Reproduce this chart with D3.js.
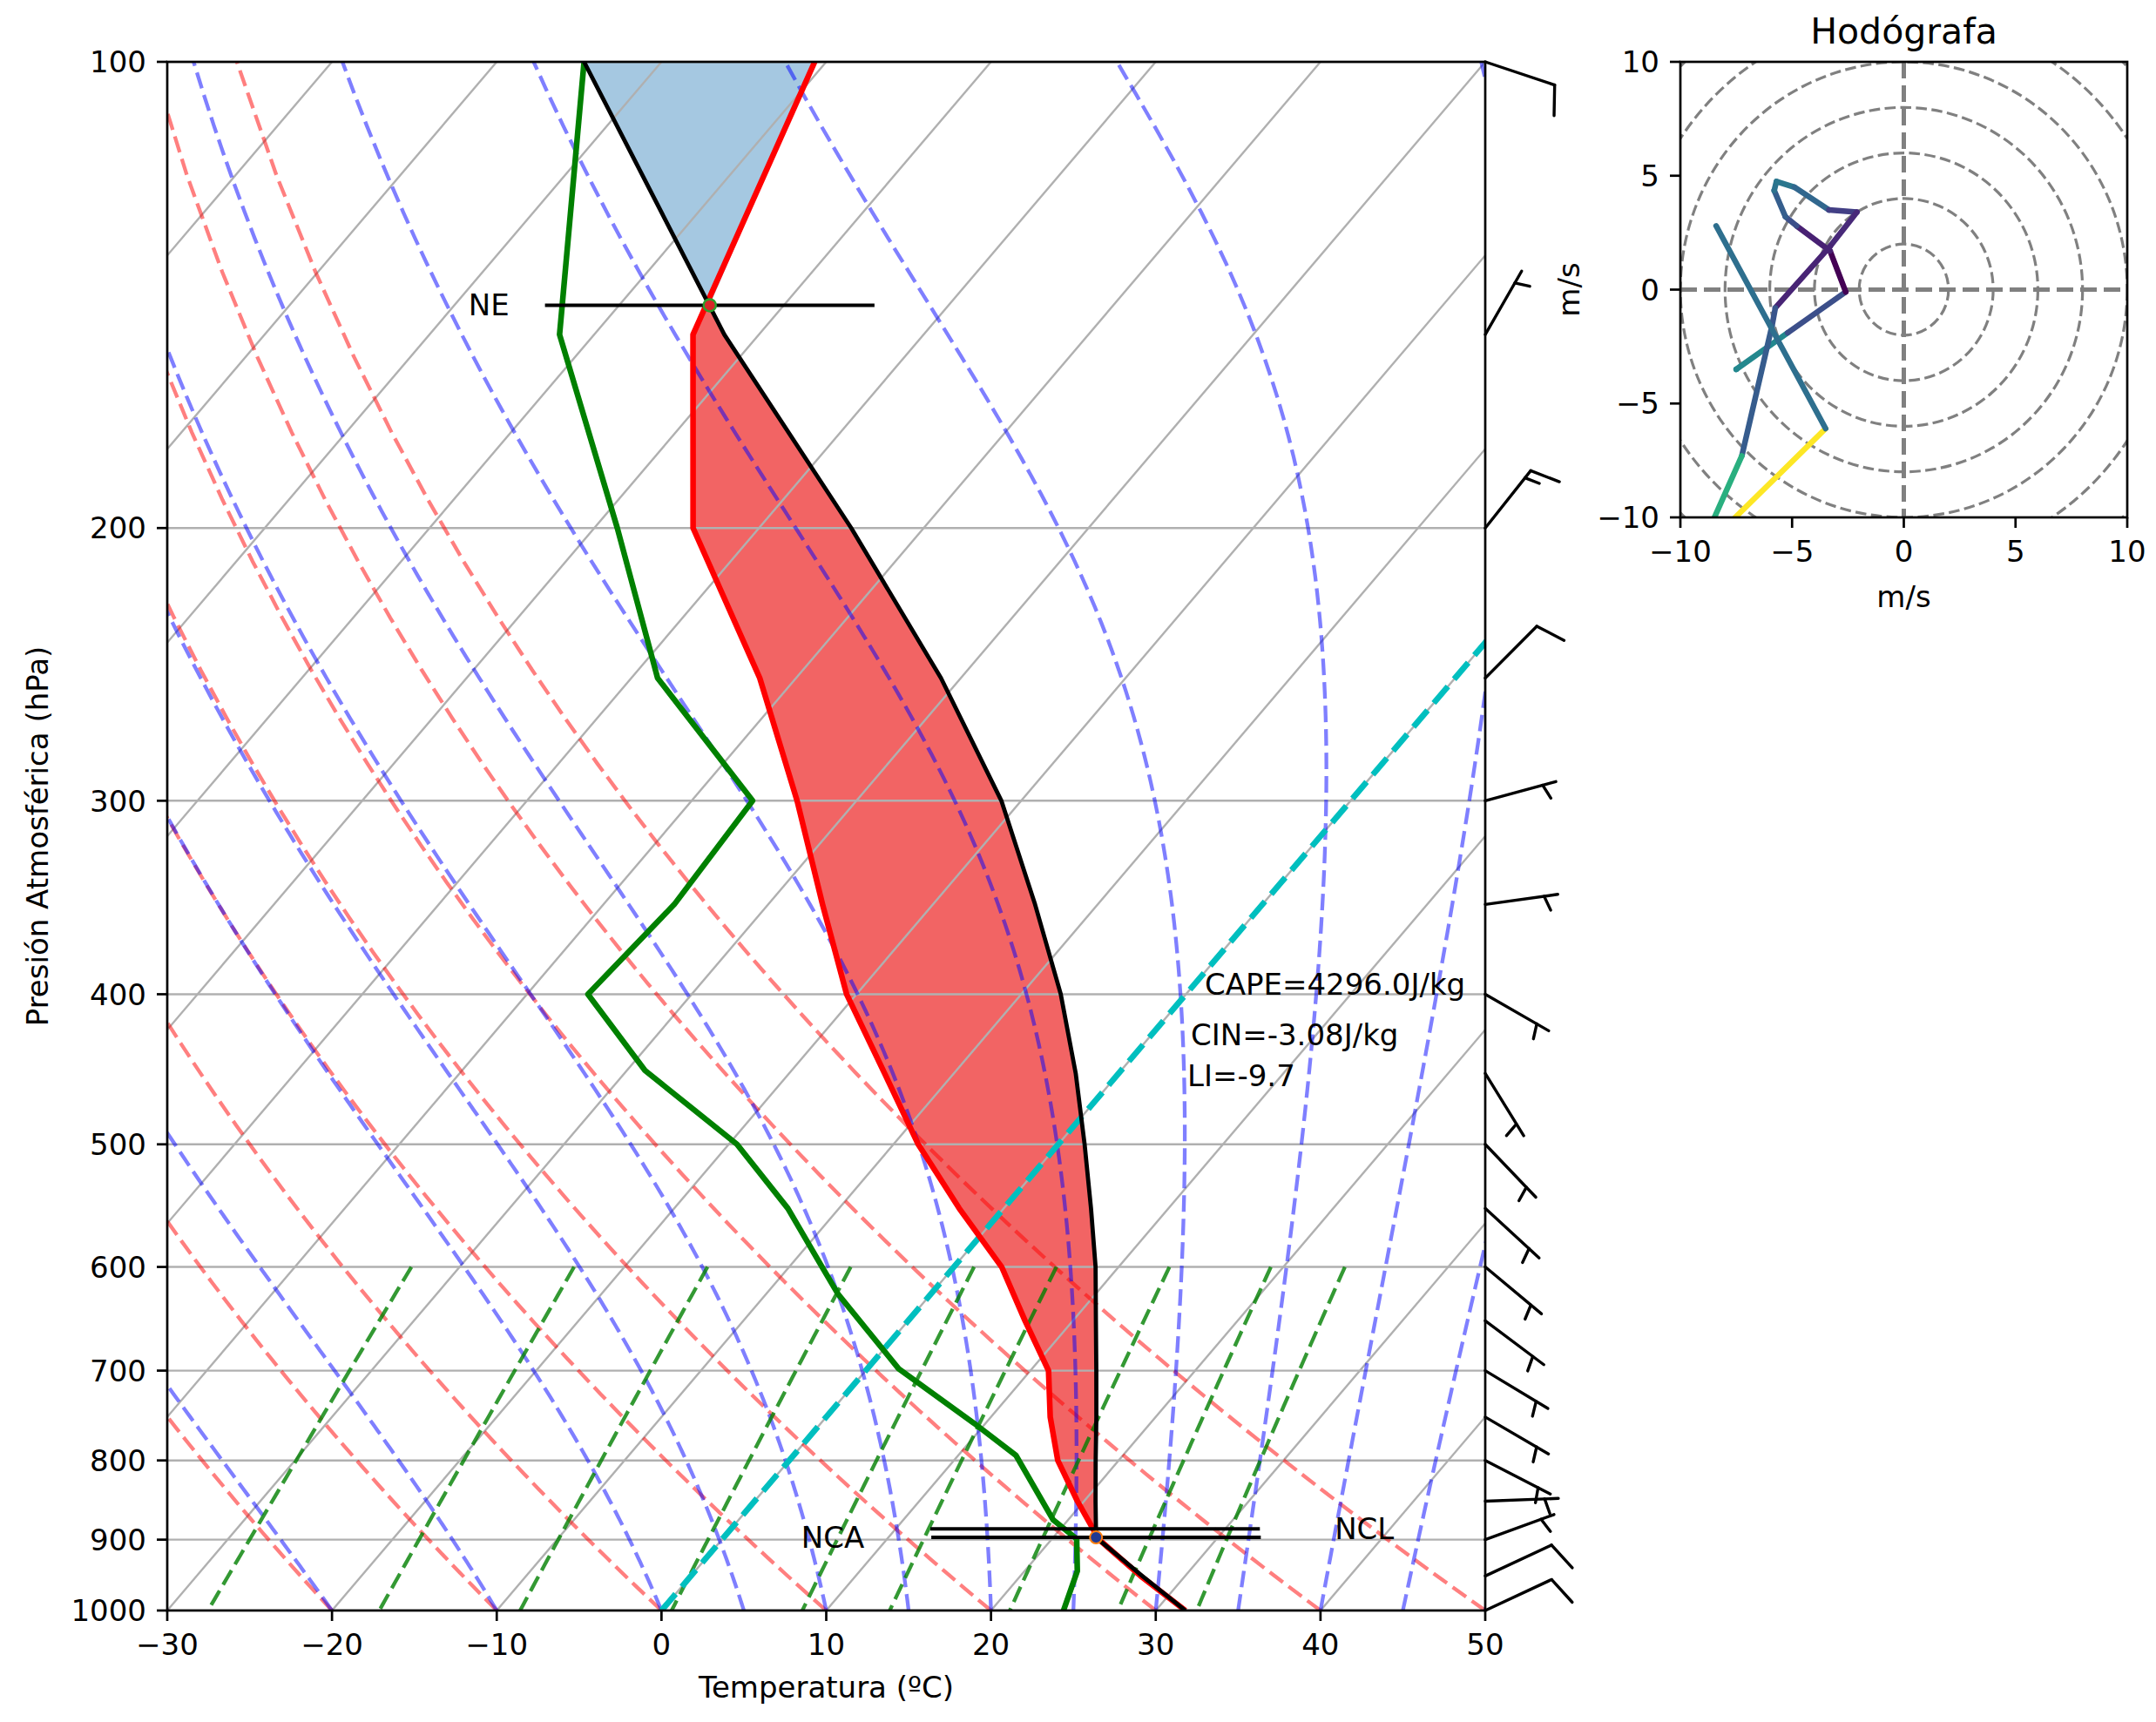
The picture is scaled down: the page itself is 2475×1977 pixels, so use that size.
<!DOCTYPE html>
<html>
<head>
<meta charset="utf-8">
<script src="https://cdn.jsdelivr.net/npm/d3@7"></script>
<style>
  body { margin: 0; background: #fff; }
  text { font-family: "DejaVu Sans", sans-serif; fill: #000; }
</style>
</head>
<body>
<svg id="chart" width="2475" height="1977"></svg>
<script>
// ---- sounding data (hPa, ºC) ----
var pressure    = [1000, 950, 900, 850, 800, 750, 700, 650, 600, 550, 500, 450, 400, 350, 300, 250, 200, 150, 100];
var temperature = [31.8, 27.3, 22.9, 19.6, 16.3, 13.6, 11.1, 7.1, 2.9, -2.7, -8.5, -14.2, -20.6, -26.7, -33.6, -42.2, -54.0, -64.0, -70.7];

var dewPressure = [1000, 943, 899, 874, 794, 757, 698, 625, 600, 550, 500, 448, 400, 350, 300, 250, 200, 150, 100];
var dewpoint    = [24.4, 23.2, 21.5, 19.1, 13.5, 9.3, 1.9, -5.6, -8.0, -13.1, -19.5, -28.9, -36.3, -35.7, -36.3, -48.4, -58.6, -72.1, -84.7];

var parcelPressure = [1000, 950, 897, 850, 800, 750, 700, 650, 600, 550, 500, 450, 400, 350, 300, 250, 200, 150, 100];
var parcelTemp     = [31.8, 27.4, 22.6, 20.7, 18.6, 16.4, 14.0, 11.4, 8.6, 5.3, 1.6, -2.6, -7.6, -13.8, -21.2, -31.2, -44.4, -62.1, -84.7];

// wind (m/s) at every level of "pressure"
var windU = [-7.5, -7.5, -5.2, -2.6, -3.3, -4.8, -5.3, -5.8, -5.7, -4.9, -3.35, -2.1, -3.3, -5.75, -5.9, -7.25, -9.2, -3.5, -8.4];
var windV = [-3.5, -3.5, -1.9, -0.1, 1.7, 2.8, 3.2, 4.35, 4.75, 4.5, 3.5, 3.4, 1.9, -0.8, -1.6, -7.3, -11.6, -6.1, 2.8];

// levels
var lclP = 897, lclT = 22.6;
var lfcP = 885.6, lfcT = 22.1;
var elP = 143.6, elT = -64.5;

var indices = ["CAPE=4296.0J/kg", "CIN=-3.08J/kg", "LI=-9.7"];

// ticks and background lines
var pressureTicks = [100, 200, 300, 400, 500, 600, 700, 800, 900, 1000];
var tempTicks = [-30, -20, -10, 0, 10, 20, 30, 40, 50];
var isotherms = d3.range(-110, 51, 10);
var dryStart = [-30, -20, -10, 0, 10, 20, 30, 40, 50];
var moistStart = [-30, -20, -10, 0, 5, 10, 15, 20, 25, 30, 35, 40, 45, 50];
var mixingRatios = [0.0004, 0.001, 0.002, 0.004, 0.007, 0.01, 0.016, 0.024, 0.032];
var hodoTicks = [-10, -5, 0, 5, 10];
var hodoRings = d3.range(2, 20, 2);

// ---- layout ----
var plot = {left: 192, right: 1705, top: 71, bottom: 1849};
var hodo = {left: 1929, right: 2442, top: 71, bottom: 594};
var fontSize = 34;

var svg = d3.select("#chart");

var xT = d3.scaleLinear().domain([-30, 50]).range([plot.left, plot.right]);
var yP = d3.scaleLog().domain([1000, 100]).range([plot.bottom, plot.top]);
var skew = (plot.right - plot.left) / (plot.bottom - plot.top);

function px(t, p) { return xT(t) + (plot.bottom - yP(p)) * skew; }

var profileLine = d3.line()
  .x(function(d) { return px(d[1], d[0]); })
  .y(function(d) { return yP(d[0]); });

function zip(a, b) { return a.map(function(v, i) { return [v, b[i]]; }); }

var defs = svg.append("defs");
defs.append("clipPath").attr("id", "clipMain").append("rect")
  .attr("x", plot.left).attr("y", plot.top)
  .attr("width", plot.right - plot.left).attr("height", plot.bottom - plot.top);
defs.append("clipPath").attr("id", "clipHodo").append("rect")
  .attr("x", hodo.left).attr("y", hodo.top)
  .attr("width", hodo.right - hodo.left).attr("height", hodo.bottom - hodo.top);

var g = svg.append("g").attr("clip-path", "url(#clipMain)");

// ---- CAPE / CIN shading ----
var tempPts = zip(pressure, temperature);
var parcelPts = zip(parcelPressure, parcelTemp);

var capePoly = [[lfcP, lfcT]]
  .concat(parcelPts.filter(function(d) { return d[0] < lfcP && d[0] > elP; }))
  .concat([[elP, elT]])
  .concat(tempPts.filter(function(d) { return d[0] < lfcP && d[0] > elP; }).reverse());
var cinPoly = [[elP, elT]]
  .concat(parcelPts.filter(function(d) { return d[0] < elP; }))
  .concat(tempPts.filter(function(d) { return d[0] < elP; }).reverse());

g.append("path").attr("d", profileLine(capePoly) + "Z").attr("fill", "rgb(242,100,100)");
g.append("path").attr("d", profileLine(cinPoly) + "Z").attr("fill", "rgb(165,200,225)");

// ---- grid ----
g.selectAll(".iso").data(isotherms).enter().append("line")
  .attr("x1", function(t) { return px(t, 1000); }).attr("y1", yP(1000))
  .attr("x2", function(t) { return px(t, 100); }).attr("y2", yP(100))
  .attr("stroke", "#b0b0b0").attr("stroke-width", 2.4);
g.selectAll(".isobar").data(pressureTicks).enter().append("line")
  .attr("x1", plot.left).attr("x2", plot.right)
  .attr("y1", function(p) { return yP(p); }).attr("y2", function(p) { return yP(p); })
  .attr("stroke", "#b0b0b0").attr("stroke-width", 2.4);

// ---- dry adiabats ----
var kappa = 0.28571, eps = 0.622, Rd = 287.04749, Cpd = 1004.6662, Lv = 2.501e6;
var linP = d3.range(50).map(function(i) { return 1000 - i * 900 / 49; });

var dryLines = dryStart.map(function(t0) {
  return linP.map(function(p) { return [p, (t0 + 273.15) * Math.pow(p / 1000, kappa) - 273.15]; });
});
g.selectAll(".dry").data(dryLines).enter().append("path")
  .attr("d", profileLine).attr("fill", "none")
  .attr("stroke", "#ff0000").attr("stroke-opacity", 0.5)
  .attr("stroke-width", 4.3).attr("stroke-dasharray", "19,8");

// ---- moist adiabats ----
function satVap(tK) { var tc = tK - 273.15; return 6.112 * Math.exp(17.67 * tc / (tc + 243.5)); }
function dTdp(p, tK) {
  var es = satVap(tK), rs = eps * es / (p - es);
  return (Rd * tK + Lv * rs) / (Cpd + Lv * Lv * rs * eps / (Rd * tK * tK)) / p;
}
var moistLines = moistStart.map(function(t0) {
  var tK = t0 + 273.15, p = 1000, dp = -5, pts = [[p, t0]];
  while (p > 100.001) {
    var k1 = dTdp(p, tK), k2 = dTdp(p + dp / 2, tK + dp / 2 * k1),
        k3 = dTdp(p + dp / 2, tK + dp / 2 * k2), k4 = dTdp(p + dp, tK + dp * k3);
    tK += dp / 6 * (k1 + 2 * k2 + 2 * k3 + k4);
    p += dp;
    pts.push([p, tK - 273.15]);
  }
  return pts;
});
g.selectAll(".moist").data(moistLines).enter().append("path")
  .attr("d", profileLine).attr("fill", "none")
  .attr("stroke", "#0000ff").attr("stroke-opacity", 0.5)
  .attr("stroke-width", 4.3).attr("stroke-dasharray", "19,8");

// ---- mixing ratio lines ----
var mixP = d3.range(50).map(function(i) { return 600 + i * 400 / 49; });
var mixLines = mixingRatios.map(function(w) {
  return mixP.map(function(p) {
    var e = p * w / (eps + w), l = Math.log(e / 6.112);
    return [p, 243.5 * l / (17.67 - l)];
  });
});
g.selectAll(".mix").data(mixLines).enter().append("path")
  .attr("d", profileLine).attr("fill", "none")
  .attr("stroke", "#008000").attr("stroke-opacity", 0.8)
  .attr("stroke-width", 4.3).attr("stroke-dasharray", "19,8");

// freezing line
g.append("line")
  .attr("x1", px(0, 1000)).attr("y1", yP(1000))
  .attr("x2", px(0, 100)).attr("y2", yP(100))
  .attr("stroke", "#00bfbf").attr("stroke-width", 6.8).attr("stroke-dasharray", "25,11");

// ---- profiles ----
g.append("path").attr("d", profileLine(tempPts)).attr("fill", "none")
  .attr("stroke", "#ff0000").attr("stroke-width", 6.5).attr("stroke-linejoin", "round");
g.append("path").attr("d", profileLine(zip(dewPressure, dewpoint))).attr("fill", "none")
  .attr("stroke", "#008000").attr("stroke-width", 6.5).attr("stroke-linejoin", "round");
g.append("path").attr("d", profileLine(parcelPts)).attr("fill", "none")
  .attr("stroke", "#000").attr("stroke-width", 4.8).attr("stroke-linejoin", "round");

// ---- level markers ----
var levels = [
  {p: elP, t: elT, label: "NE", side: "left", dx: -230},
  {p: lclP, t: lclT, label: "NCA", side: "left", dx: -266},
  {p: lfcP, t: lfcT, label: "NCL", side: "right", dx: 275}
];
levels.forEach(function(lv) {
  g.append("line")
    .attr("x1", px(lv.t - 10, lv.p)).attr("x2", px(lv.t + 10, lv.p))
    .attr("y1", yP(lv.p)).attr("y2", yP(lv.p))
    .attr("stroke", "#000").attr("stroke-width", 4);
  svg.append("text")
    .attr("x", px(lv.t, lv.p) + lv.dx).attr("y", yP(lv.p)).attr("dy", "0.35em")
    .attr("text-anchor", lv.side === "left" ? "end" : "start")
    .attr("font-size", fontSize).attr("fill", "#222").text(lv.label);
});
g.append("circle").attr("cx", px(elT, elP)).attr("cy", yP(elP)).attr("r", 7)
  .attr("fill", "#d62728").attr("stroke", "#2ca02c").attr("stroke-width", 2.5);
g.append("circle").attr("cx", px(lclT, lclP)).attr("cy", yP(lclP)).attr("r", 7)
  .attr("fill", "#1f3a93").attr("stroke", "#ff7f0e").attr("stroke-width", 2);

// ---- indices text ----
var indexPos = [[1383, 1142], [1367, 1200], [1363, 1247]];
indices.forEach(function(s, i) {
  svg.append("text").attr("x", indexPos[i][0]).attr("y", indexPos[i][1])
    .attr("font-size", fontSize).attr("fill", "#222").text(s);
});

// ---- axes ----
var frame = svg.append("g");
frame.append("rect")
  .attr("x", plot.left).attr("y", plot.top)
  .attr("width", plot.right - plot.left).attr("height", plot.bottom - plot.top)
  .attr("fill", "none").attr("stroke", "#000").attr("stroke-width", 2.7);

pressureTicks.forEach(function(p) {
  frame.append("line").attr("x1", plot.left - 12).attr("x2", plot.left)
    .attr("y1", yP(p)).attr("y2", yP(p)).attr("stroke", "#000").attr("stroke-width", 2.7);
  frame.append("text").attr("x", plot.left - 24).attr("y", yP(p)).attr("dy", "0.36em")
    .attr("text-anchor", "end").attr("font-size", fontSize).text(p);
});
var fmt = d3.format("d");
tempTicks.forEach(function(t) {
  frame.append("line").attr("x1", xT(t)).attr("x2", xT(t))
    .attr("y1", plot.bottom).attr("y2", plot.bottom + 12).attr("stroke", "#000").attr("stroke-width", 2.7);
  frame.append("text").attr("x", xT(t)).attr("y", plot.bottom + 51)
    .attr("text-anchor", "middle").attr("font-size", fontSize).text(fmt(t));
});
frame.append("text").attr("x", (plot.left + plot.right) / 2).attr("y", 1949)
  .attr("text-anchor", "middle").attr("font-size", fontSize).text("Temperatura (ºC)");
frame.append("text")
  .attr("transform", "translate(55," + (plot.top + plot.bottom) / 2 + ") rotate(-90)")
  .attr("text-anchor", "middle").attr("font-size", fontSize).text("Presión Atmosférica (hPa)");

// ---- wind barbs ----
function barbSegments(x, y, u, v) {
  var L = 84, spacing = L * 0.125, fullH = L * 0.4, fullW = L * 0.25;
  var mag = 5 * Math.round(Math.sqrt(u * u + v * v) / 5);
  var nbarbs = Math.floor(mag / 10);
  var half = (mag - nbarbs * 10) >= 5;
  var phi = Math.atan2(v, u);
  var sx = -Math.cos(phi), sy = -Math.sin(phi);
  var bx = -Math.sin(phi), by = Math.cos(phi);
  function pt(a, b) { return [x + a * bx + b * sx, y - (a * by + b * sy)]; }
  var segs = [[pt(0, 0), pt(0, L)]];
  var offset = L;
  for (var i = 0; i < nbarbs; i++) {
    segs.push([pt(0, offset), pt(fullH, offset + fullW / 2)]);
    offset -= spacing;
  }
  if (half) {
    if (offset === L) offset -= 1.5 * spacing;
    segs.push([pt(0, offset), pt(fullH / 2, offset + fullW / 4)]);
  }
  return segs;
}
var barbs = svg.append("g").attr("stroke", "#000").attr("stroke-width", 3.4)
  .attr("stroke-linecap", "round").attr("fill", "none");
pressure.forEach(function(p, i) {
  barbSegments(plot.right, yP(p), windU[i], windV[i]).forEach(function(s) {
    barbs.append("path").attr("d", d3.line()(s));
  });
});

// ---- hodograph ----
var hx = d3.scaleLinear().domain([-10, 10]).range([hodo.left, hodo.right]);
var hy = d3.scaleLinear().domain([-10, 10]).range([hodo.bottom, hodo.top]);
var hg = svg.append("g").attr("clip-path", "url(#clipHodo)");

hg.selectAll(".ring").data(hodoRings).enter().append("ellipse")
  .attr("cx", hx(0)).attr("cy", hy(0))
  .attr("rx", function(r) { return hx(r) - hx(0); })
  .attr("ry", function(r) { return hy(0) - hy(r); })
  .attr("fill", "none").attr("stroke", "#808080").attr("stroke-width", 3.2)
  .attr("stroke-dasharray", "12.6,5.4");
hg.append("line").attr("x1", hodo.left).attr("x2", hodo.right).attr("y1", hy(0)).attr("y2", hy(0))
  .attr("stroke", "#808080").attr("stroke-width", 5).attr("stroke-dasharray", "19,8");
hg.append("line").attr("y1", hodo.top).attr("y2", hodo.bottom).attr("x1", hx(0)).attr("x2", hx(0))
  .attr("stroke", "#808080").attr("stroke-width", 5).attr("stroke-dasharray", "19,8");

var speed = windU.map(function(u, i) { return Math.sqrt(u * u + windV[i] * windV[i]); });
var color = d3.scaleSequential(d3.interpolateViridis).domain(d3.extent(speed));
for (var i = 0; i < windU.length - 1; i++) {
  hg.append("line")
    .attr("x1", hx(windU[i])).attr("y1", hy(windV[i]))
    .attr("x2", hx(windU[i + 1])).attr("y2", hy(windV[i + 1]))
    .attr("stroke", color(speed[i])).attr("stroke-width", 6.5).attr("stroke-linecap", "round");
}

var hf = svg.append("g");
hf.append("rect").attr("x", hodo.left).attr("y", hodo.top)
  .attr("width", hodo.right - hodo.left).attr("height", hodo.bottom - hodo.top)
  .attr("fill", "none").attr("stroke", "#000").attr("stroke-width", 2.7);
hodoTicks.forEach(function(t) {
  hf.append("line").attr("x1", hodo.left - 12).attr("x2", hodo.left)
    .attr("y1", hy(t)).attr("y2", hy(t)).attr("stroke", "#000").attr("stroke-width", 2.7);
  hf.append("text").attr("x", hodo.left - 24).attr("y", hy(t)).attr("dy", "0.36em")
    .attr("text-anchor", "end").attr("font-size", fontSize).text(fmt(t));
  hf.append("line").attr("x1", hx(t)).attr("x2", hx(t))
    .attr("y1", hodo.bottom).attr("y2", hodo.bottom + 12).attr("stroke", "#000").attr("stroke-width", 2.7);
  hf.append("text").attr("x", hx(t)).attr("y", hodo.bottom + 51)
    .attr("text-anchor", "middle").attr("font-size", fontSize).text(fmt(t));
});
hf.append("text").attr("x", (hodo.left + hodo.right) / 2).attr("y", 50)
  .attr("text-anchor", "middle").attr("font-size", 41).text("Hodógrafa");
hf.append("text").attr("x", (hodo.left + hodo.right) / 2).attr("y", 697)
  .attr("text-anchor", "middle").attr("font-size", fontSize).text("m/s");
hf.append("text")
  .attr("transform", "translate(1813," + (hodo.top + hodo.bottom) / 2 + ") rotate(-90)")
  .attr("text-anchor", "middle").attr("font-size", fontSize).text("m/s");
</script>
</body>
</html>
